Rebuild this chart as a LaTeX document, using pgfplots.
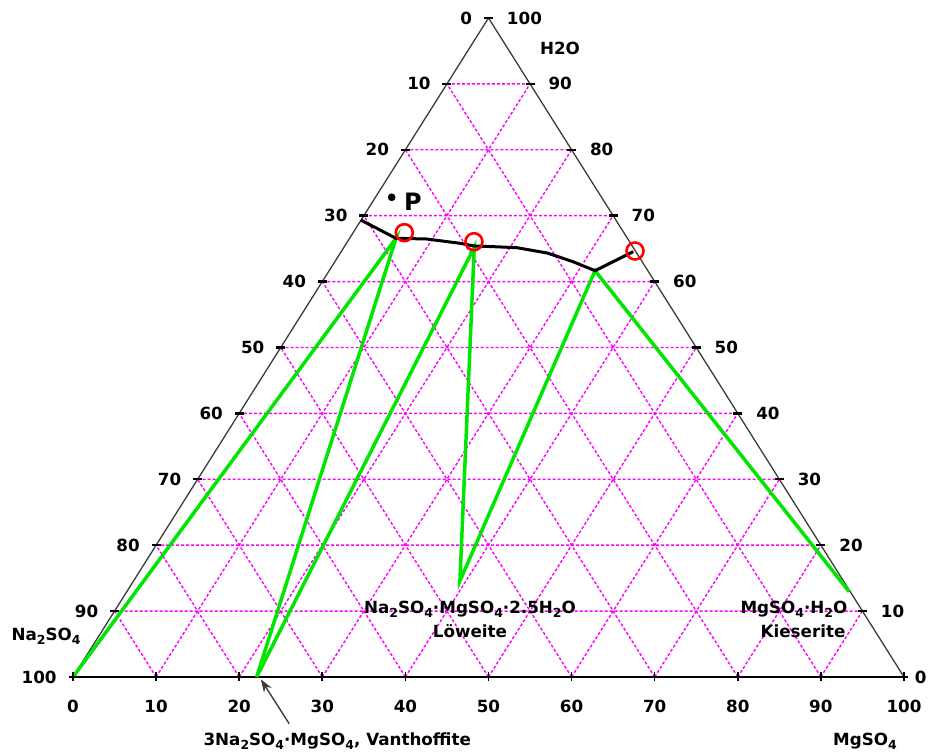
\documentclass[border=0pt]{standalone}
\usepackage{pgfplots}
\pgfplotsset{compat=1.18}
\usepackage{fontspec}
\setmainfont{DejaVu Sans}
\usetikzlibrary{arrows.meta}
\definecolor{gridmag}{RGB}{255,0,255}
\definecolor{tiegreen}{RGB}{0,230,0}
\definecolor{edgegray}{RGB}{60,60,60}
\newcommand\sub[1]{\raisebox{-0.22em}{\fontsize{12.5}{13}\selectfont #1}}
\begin{document}
\begin{tikzpicture}[lab/.style={font=\fontsize{16.8}{19}\selectfont\bfseries, inner sep=0pt}]
\begin{axis}[
  hide axis, scale only axis, width=831bp, height=659bp,
  xmin=0, xmax=100, ymin=0, ymax=100, enlargelimits=false, clip=false,
  unbounded coords=jump]
% grid
\addplot[gridmag, line width=1.4bp, dash pattern=on 3bp off 2bp] table {
x y
5 10
95 10
nan nan
10 20
90 20
nan nan
15 30
85 30
nan nan
20 40
80 40
nan nan
25 50
75 50
nan nan
30 60
70 60
nan nan
35 70
65 70
nan nan
40 80
60 80
nan nan
45 90
55 90
nan nan
10 0
55 90
nan nan
20 0
60 80
nan nan
30 0
65 70
nan nan
40 0
70 60
nan nan
50 0
75 50
nan nan
60 0
80 40
nan nan
70 0
85 30
nan nan
80 0
90 20
nan nan
90 0
95 10
nan nan
10 0
5 10
nan nan
20 0
10 20
nan nan
30 0
15 30
nan nan
40 0
20 40
nan nan
50 0
25 50
nan nan
60 0
30 60
nan nan
70 0
35 70
nan nan
80 0
40 80
nan nan
90 0
45 90
};
% triangle
\addplot[edgegray, line width=1.3bp] coordinates {(0,0) (50,100) (100,0)};
\addplot[black, line width=2bp] coordinates {(0,0) (100,0)};
% ticks
\addplot[only marks, mark=-, mark size=4.5bp, mark options={line width=2.4bp, black}] coordinates {
(0,0) (5,10) (10,20) (15,30) (20,40) (25,50) (30,60) (35,70) (40,80) (45,90) (50,100)
(55,90) (60,80) (65,70) (70,60) (75,50) (80,40) (85,30) (90,20) (95,10) (100,0)};
\addplot[only marks, mark=|, mark size=4.5bp, mark options={line width=1.6bp, black}] coordinates {
(0,0) (10,0) (20,0) (30,0) (40,0) (50,0) (60,0) (70,0) (80,0) (90,0) (100,0)};
% tie lines
\addplot[tiegreen, line width=3.5bp] coordinates {(0,0) (38.87,66.57) (22.1,0) (48.29,65.2) (46.56,14.57) (62.82,61.65) (93.4,12.95)};
% saturation curve
\addplot[black, line width=3bp, line join=round] coordinates {
(34.62,69.35) (38.87,66.57) (42.56,66.46) (46.57,65.81) (48.29,65.40) (50.54,65.30)
(53.43,65.14) (57.04,64.34) (60.17,63.02) (62.82,61.65) (67.42,64.54)};
% invariant points
\addplot[only marks, mark=o, mark size=8.5bp, mark options={red, line width=2.6bp}] coordinates {
(39.87,67.42) (48.25,66.05) (67.63,64.64)};
% point P
\addplot[only marks, mark=*, mark size=3.6bp, black] coordinates {(38.35,72.79)};
\node[font=\fontsize{24}{26}\selectfont\bfseries, inner sep=0pt] at (axis cs:40.9,72.1) {P};
% left labels (Na2SO4)
\node[lab, anchor=east] at (axis cs:48.05,100) {0};
\node[lab, anchor=east] at (axis cs:43.05,90) {10};
\node[lab, anchor=east] at (axis cs:38.05,80) {20};
\node[lab, anchor=east] at (axis cs:33.05,70) {30};
\node[lab, anchor=east] at (axis cs:28.05,60) {40};
\node[lab, anchor=east] at (axis cs:23.05,50) {50};
\node[lab, anchor=east] at (axis cs:18.05,40) {60};
\node[lab, anchor=east] at (axis cs:13.05,30) {70};
\node[lab, anchor=east] at (axis cs:8.05,20) {80};
\node[lab, anchor=east] at (axis cs:3.05,10) {90};
\node[lab, anchor=east] at (axis cs:-1.95,0) {100};
% right labels (H2O)
\node[lab, anchor=west] at (axis cs:52.2,100) {100};
\node[lab, anchor=west] at (axis cs:57.2,90) {90};
\node[lab, anchor=west] at (axis cs:62.2,80) {80};
\node[lab, anchor=west] at (axis cs:67.2,70) {70};
\node[lab, anchor=west] at (axis cs:72.2,60) {60};
\node[lab, anchor=west] at (axis cs:77.2,50) {50};
\node[lab, anchor=west] at (axis cs:82.2,40) {40};
\node[lab, anchor=west] at (axis cs:87.2,30) {30};
\node[lab, anchor=west] at (axis cs:92.2,20) {20};
\node[lab, anchor=west] at (axis cs:97.2,10) {10};
\node[lab, anchor=west] at (axis cs:101.3,0) {0};
% bottom labels (MgSO4)
\node[lab] at (axis cs:0,-4.4) {0};
\node[lab] at (axis cs:10,-4.4) {10};
\node[lab] at (axis cs:20,-4.4) {20};
\node[lab] at (axis cs:30,-4.4) {30};
\node[lab] at (axis cs:40,-4.4) {40};
\node[lab] at (axis cs:50,-4.4) {50};
\node[lab] at (axis cs:60,-4.4) {60};
\node[lab] at (axis cs:70,-4.4) {70};
\node[lab] at (axis cs:80,-4.4) {80};
\node[lab] at (axis cs:90,-4.4) {90};
\node[lab] at (axis cs:100,-4.4) {100};
\node[lab] at (axis cs:58.6,95.45) {H2O};
\node[lab] at (axis cs:-3.25,6.22) {Na\sub{2}SO\sub{4}};
\node[lab] at (axis cs:95.3,-9.8) {MgSO\sub{4}};
\node[lab] at (axis cs:31.8,-9.7) {3Na\sub{2}SO\sub{4}·MgSO\sub{4}, Vanthoffite};
\node[lab] at (axis cs:47.77,10.3) {Na\sub{2}SO\sub{4}·MgSO\sub{4}·2.5H\sub{2}O};
\node[lab] at (axis cs:47.77,6.98) {Löweite};
\node[lab] at (axis cs:86.76,10.3) {MgSO\sub{4}·H\sub{2}O};
\node[lab] at (axis cs:87.85,6.98) {Kieserite};
\draw[edgegray, line width=1.4bp, -{Stealth[length=13bp, width=9bp]}] (axis cs:26.02,-7.1) -- (axis cs:22.6,-0.35);
\coordinate (bl) at (axis cs:-8.785,-11.68);
\coordinate (tr) at (axis cs:103.01,102.73);
\end{axis}
\pgfresetboundingbox
\path[use as bounding box] (bl) rectangle (tr);
\end{tikzpicture}
\end{document}
